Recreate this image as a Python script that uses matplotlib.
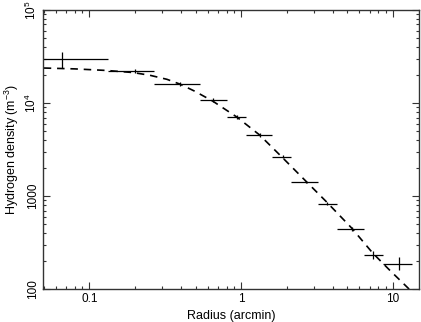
#!/usr/bin/env python3

import numpy as np
import matplotlib
matplotlib.use('Agg')
import matplotlib.pyplot as plt

plt.rcParams['font.family'] = ['Liberation Sans', 'DejaVu Sans']
plt.rcParams['mathtext.fontset'] = 'custom'
plt.rcParams['mathtext.rm'] = 'Liberation Sans'
plt.rcParams['mathtext.it'] = 'Liberation Sans'

# Binned density profile (radius in arcmin, density in m^-3)
r_center = [0.066, 0.200, 0.396, 0.650, 0.934, 1.32, 1.87, 2.69, 3.70, 5.36, 7.42, 10.9]
r_low = [0.001, 0.133, 0.267, 0.535, 0.800, 1.07, 1.60, 2.14, 3.20, 4.27, 6.40, 8.53]
r_high = [0.133, 0.267, 0.535, 0.800, 1.07, 1.60, 2.14, 3.20, 4.27, 6.40, 8.53, 13.3]
density = [29500, 22100, 16000, 10800, 7100, 4540, 2640, 1420, 826, 445, 233, 187]
dens_low = [23800, 21000, 15300, 10300, 6800, 4350, 2540, 1370, 795, 425, 210, 160]
dens_high = [35400, 23300, 16800, 11300, 7400, 4750, 2750, 1470, 860, 465, 260, 220]

# Model profile (dashed)
model_r = [0.05, 0.08, 0.130, 0.193, 0.25, 0.324, 0.394, 0.49, 0.649, 0.933,
           1.32, 1.85, 2.70, 3.65, 5.33, 7.33, 9.48, 12.8]
model_n = [23800, 23300, 22400, 21300, 19900, 18000, 16000, 13500, 10500, 7100,
           4550, 2640, 1420, 867, 456, 246, 161, 100]

fig = plt.figure(figsize=(4.21, 3.22), dpi=100)
ax = fig.add_axes([0.102, 0.1016, 0.893, 0.8674])

r = np.array(r_center)
n = np.array(density)
xerr = [r - np.array(r_low), np.array(r_high) - r]
yerr = [n - np.array(dens_low), np.array(dens_high) - n]

ax.errorbar(r, n, xerr=xerr, yerr=yerr, fmt='none', ecolor='black',
            elinewidth=0.9, capsize=0)
ax.plot(model_r, model_n, color='black', lw=1.2, ls=(0, (4.5, 3.5)))

ax.set_xscale('log')
ax.set_yscale('log')
ax.set_xlim(0.0494, 14.8)
ax.set_ylim(100, 1e5)

ax.set_xticks([0.1, 1, 10], labels=['0.1', '1', '10'])
ax.set_yticks([100, 1000, 1e4, 1e5],
              labels=['100', '1000', '$10^4$', '$10^5$'],
              rotation=90, va='center')

ax.tick_params(which='both', direction='in', top=True, right=True,
               labelsize=8.5, color='#333333')
ax.tick_params(which='major', length=5, width=0.8)
ax.tick_params(which='minor', length=2.5, width=0.8)
ax.tick_params(axis='x', pad=3)
ax.tick_params(axis='y', pad=3)

for s in ax.spines.values():
    s.set_color('#333333')
    s.set_linewidth(1.0)

ax.set_xlabel('Radius (arcmin)', fontsize=9, labelpad=3)
ax.set_ylabel('Hydrogen density (m$^{-3}$)', fontsize=9, labelpad=2)

fig.savefig('out.png', dpi=100, facecolor='white')
